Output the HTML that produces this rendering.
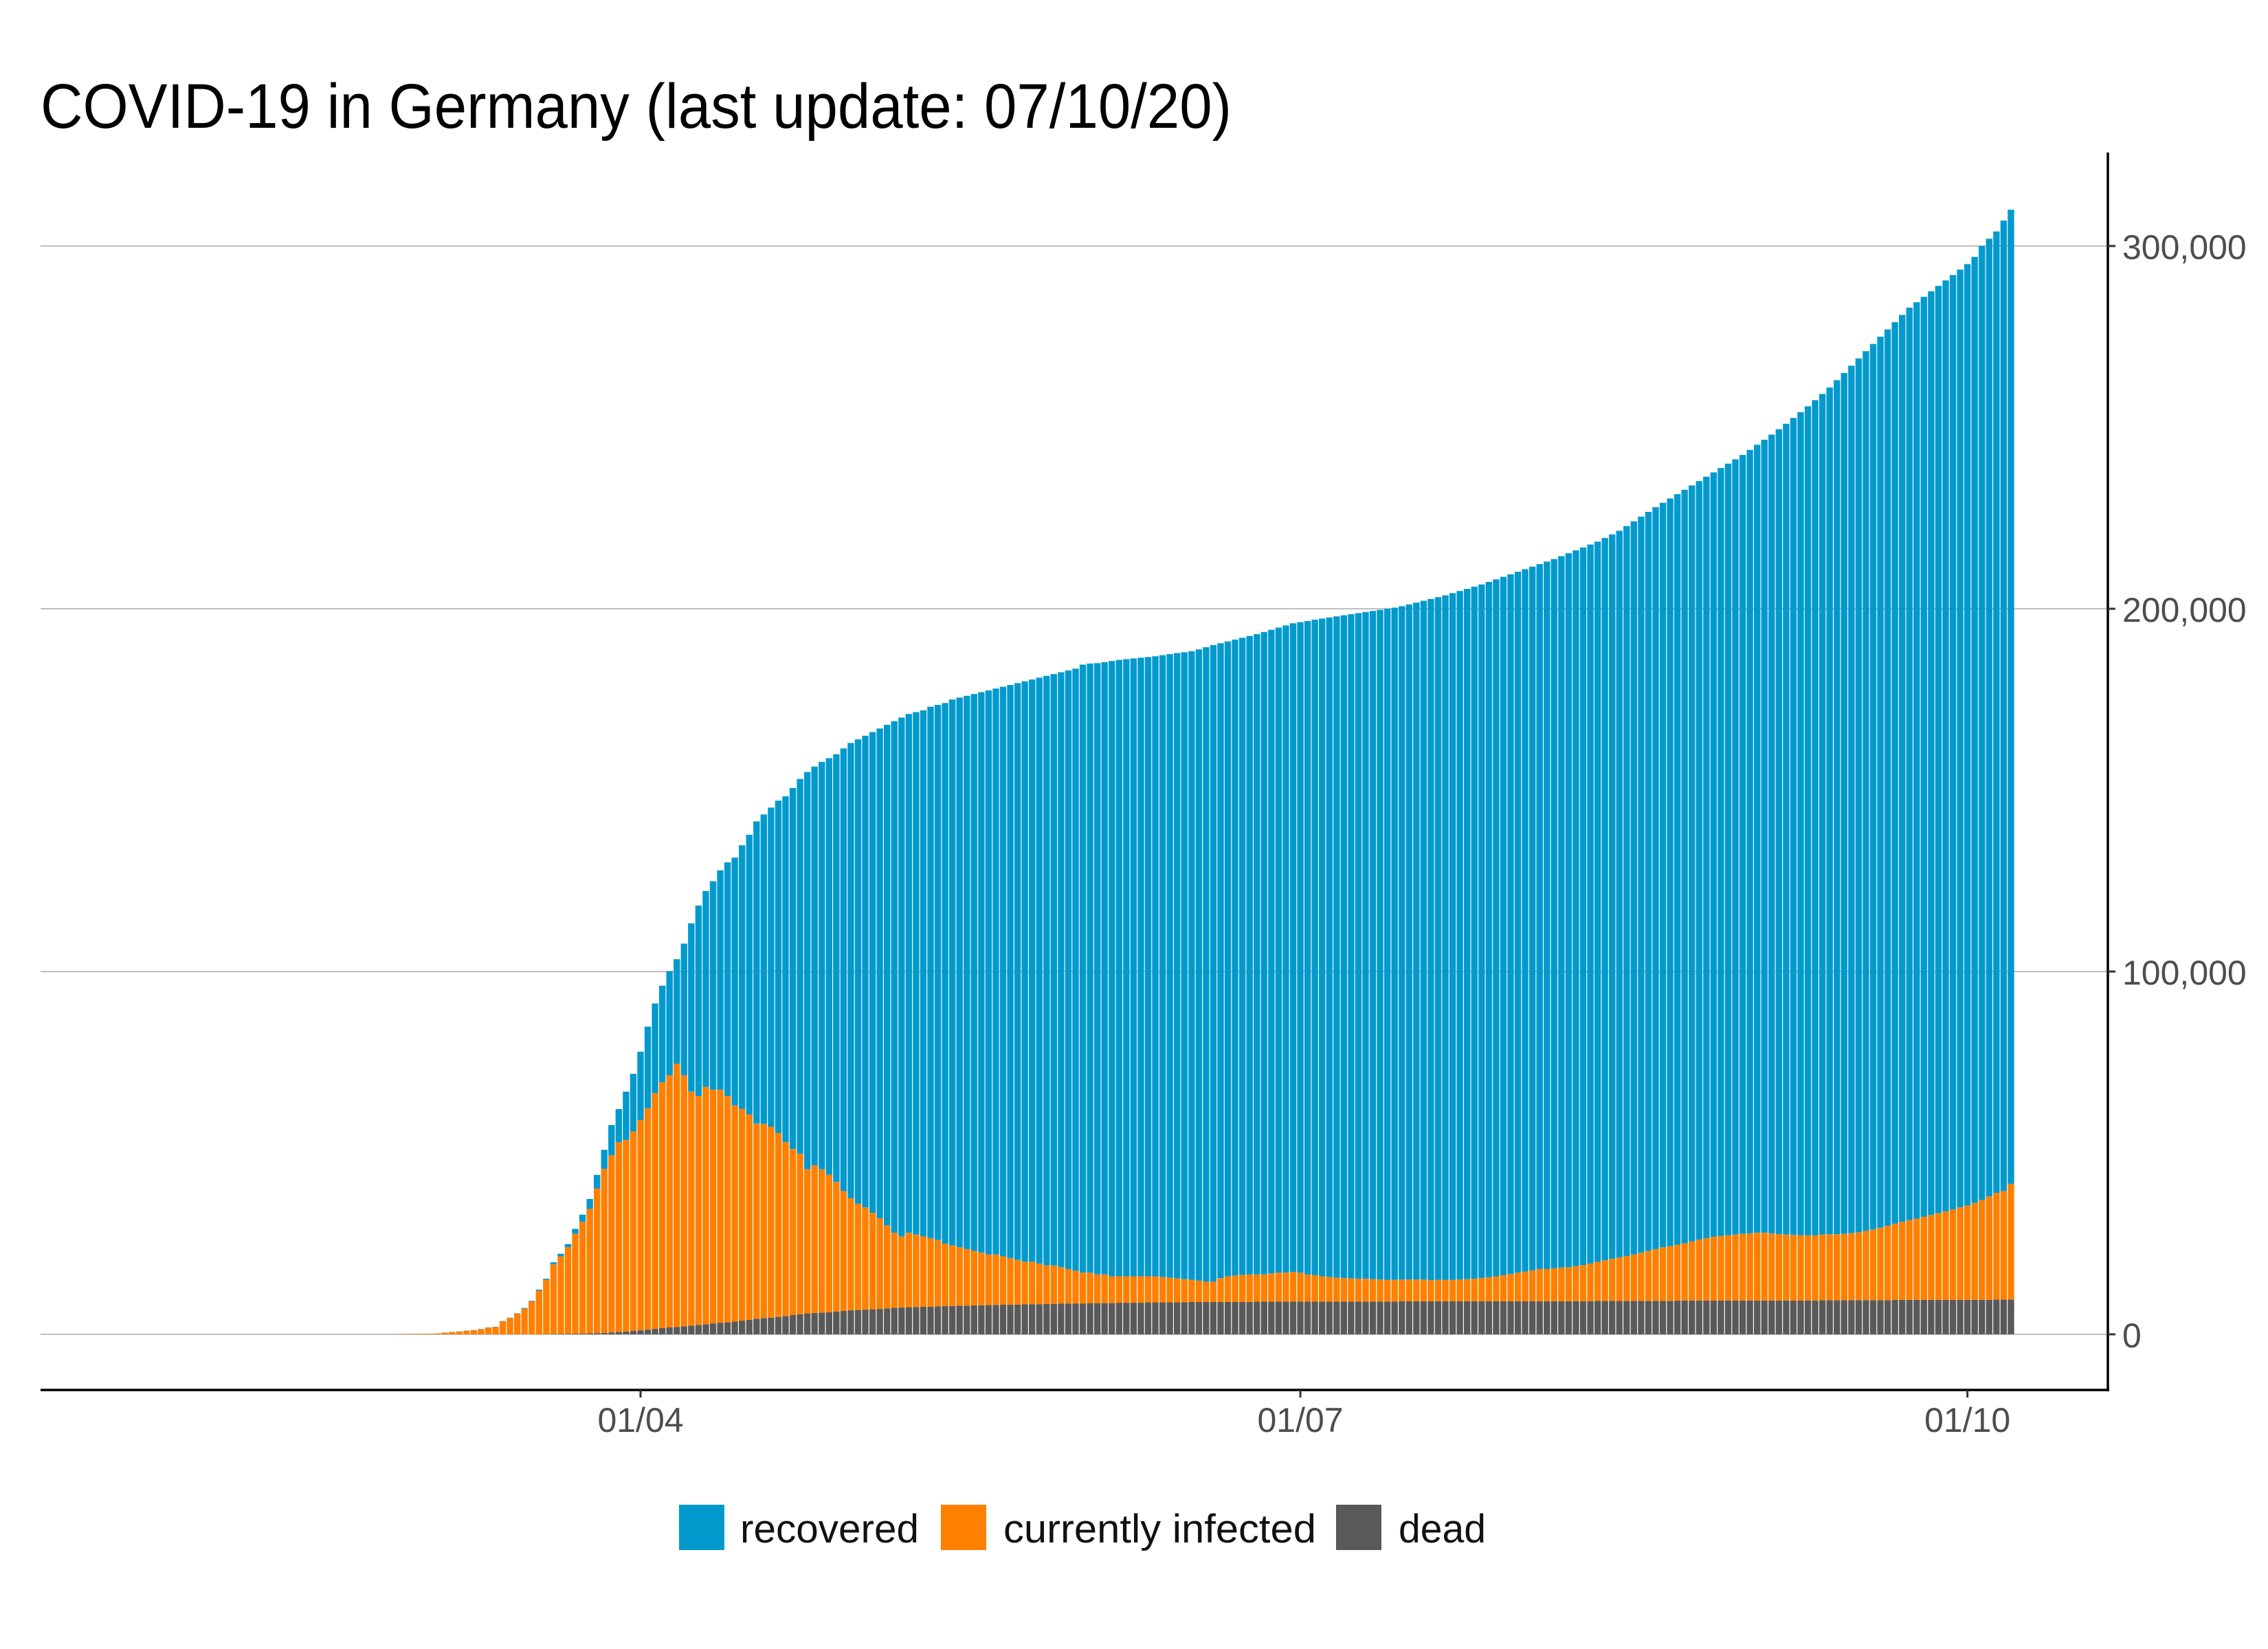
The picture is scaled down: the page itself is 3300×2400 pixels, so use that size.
<!DOCTYPE html>
<html><head><meta charset="utf-8"><style>
html,body{margin:0;padding:0;background:#fff;}
svg{display:block;}
text{font-family:"Liberation Sans",sans-serif;}
</style></head><body>
<svg id="chart" width="3300" height="2400" viewBox="0 0 3300 2400" xmlns="http://www.w3.org/2000/svg">
<rect width="3300" height="2400" fill="#fff"/>
<text x="59" y="186" font-size="92" fill="#000" textLength="1733" lengthAdjust="spacingAndGlyphs">COVID-19 in Germany (last update: 07/10/20)</text>
<g id="grid"></g>
<g id="bars"></g>
<g id="axes"></g>
<g id="legend">
<rect x="988" y="2190" width="66" height="66" fill="#029acd"/>
<text x="1077" y="2245" font-size="58" fill="#111" textLength="260" lengthAdjust="spacingAndGlyphs">recovered</text>
<rect x="1369" y="2190" width="66" height="66" fill="#ff8000"/>
<text x="1460" y="2245" font-size="58" fill="#111" textLength="455" lengthAdjust="spacingAndGlyphs">currently infected</text>
<rect x="1944" y="2190" width="66" height="66" fill="#595959"/>
<text x="2035" y="2245" font-size="58" fill="#111" textLength="127" lengthAdjust="spacingAndGlyphs">dead</text>
</g>
</svg>
<script>
// values in thousands, daily from 27 Feb 2020 to 7 Oct 2020
const startOffset = -34; // days relative to 1 April
const confFeb=[0.05,0.06,0.08];
const confMar=[0.13,0.16,0.19,0.26,0.48,0.67,0.8,1.04,1.18,1.46,1.91,2.08,3.68,4.59,5.8,7.27,9.26,12.33,15.32,19.85,22.21,24.87,29.06,32.99,37.32,43.94,50.87,57.7,62.1,66.89,71.81];
const confApr=[77.9,84.8,91.2,96.1,100.1,103.4,107.7,113.3,118.2,122.2,124.9,127.9,130.1,131.4,134.8,137.7,141.4,143.3,145.2,147.1,148.3,150.6,153.1,155.0,156.5,157.8,158.8,159.9,161.5,163.0];
const confMay=[164,165,166,167,168,169,170,171,171.5,172,173,173.5,174,175,175.5,176,176.5,177,177.5,178,178.5,179,179.5,180,180.5,181,181.5,182,182.5,183,183.5];
const confJun=[184.6,184.9,185,185.3,185.6,185.9,186.1,186.3,186.5,186.7,186.9,187.2,187.5,187.8,188,188.3,188.8,189.4,190,190.5,191,191.5,192,192.5,193,193.6,194.2,194.8,195.4,196];
const confJul=[196.3,196.6,197,197.3,197.6,197.9,198.2,198.5,198.8,199.1,199.4,199.7,200,200.3,200.7,201.2,201.7,202.2,202.7,203.2,203.7,204.3,204.9,205.5,206.1,206.7,207.4,208.1,208.8,209.5,210.2];
const confAug=[210.9,211.6,212.3,213,213.7,214.5,215.3,216.1,216.9,217.7,218.5,219.5,220.5,221.5,222.8,224.1,225.4,226.7,228,229.2,230.4,231.6,232.8,234,235.2,236.4,237.6,238.8,240,241.2,242.4];
const confSep=[243.8,245.2,246.6,248,249.5,251,252.6,254.2,255.8,257.5,259.2,261,263,265,267,269,271,273,275,277,279,281,283,284.5,286,287.5,289,290.5,292,293.5];
const confOct=[295,297,300,302,304,307,310];

const infFeb=[0.05,0.06,0.08];
const infMar=[0.13,0.16,0.19,0.26,0.46,0.64,0.77,1.0,1.13,1.4,1.85,2.0,3.6,4.5,5.7,7.1,9.1,12.0,15.0,19.2,21.4,23.9,27.6,30.8,34.3,39.8,45.2,48.8,52.3,52.8,55];
const infApr=[58,61,65,67.8,69.5,72.6,69.2,64.5,63.1,65.4,64.4,64.2,62.4,59.6,58.3,56.6,53.8,53.5,52.6,50.7,48,45.8,44.3,39.7,40.7,39.5,37.9,35.7,33,30.9];
const infMay=[29.3,28.2,26.6,25,22.9,20.7,19.6,20.5,20,19.4,18.9,18.3,17.2,16.7,16.1,15.6,15,14.5,13.9,13.9,13.3,12.8,12.3,11.7,11.7,11.2,10.6,10.6,10,9.5,9];
const infJun=[8.5,8.4,7.9,7.9,7.4,7.3,7.3,7.3,7.3,7.2,7.2,7,6.8,6.6,6.4,6.1,5.9,5.6,5.6,6.6,7.1,7.3,7.5,7.6,7.5,7.5,7.8,8,8,8.2];
const infJul=[8,7.5,7.3,7,6.8,6.6,6.5,6.4,6.3,6.3,6.2,6.1,6,6,6,6,6,6,5.8,5.9,5.9,5.9,6,6.1,6.2,6.4,6.6,6.9,7.2,7.5,7.9];
const infAug=[8.2,8.5,8.9,8.9,9.1,9.3,9.4,9.7,10,10.4,10.8,11.2,11.6,12,12.4,12.8,13.3,13.8,14.3,14.8,15.1,15.4,15.8,16.3,16.8,17.2,17.6,17.8,18,18.2,18.4];
const infSep=[18.5,18.7,18.7,18.5,18.3,18.2,18.1,18,18,18,18.1,18.2,18.2,18.3,18.5,18.7,19.1,19.5,20,20.5,21,21.5,22,22.4,22.9,23.4,23.9,24.4,24.9,25.5];
const infOct=[26,26.7,27.5,28.5,29.4,29.9,31.9];

const deadFeb=[0,0,0];
const deadMar=[0,0,0,0,0,0,0,0,0,0,0,0,0.01,0.01,0.01,0.02,0.02,0.03,0.05,0.07,0.09,0.12,0.15,0.2,0.27,0.34,0.43,0.54,0.65,0.78,0.93];
const deadApr=[1.1,1.3,1.5,1.7,1.9,2.0,2.2,2.4,2.6,2.8,3.0,3.2,3.3,3.5,3.8,4.0,4.3,4.5,4.6,4.8,5.0,5.3,5.5,5.8,5.9,6.0,6.1,6.3,6.5,6.6];
const deadMay=[6.7,6.8,6.9,7.0,7.1,7.3,7.4,7.5,7.5,7.6,7.6,7.7,7.8,7.8,7.9,7.9,8.0,8.0,8.1,8.1,8.2,8.2,8.2,8.3,8.3,8.3,8.4,8.4,8.5,8.5,8.5];
const deadJun=[8.5,8.6,8.6,8.6,8.6,8.7,8.7,8.7,8.7,8.8,8.8,8.8,8.8,8.8,8.8,8.9,8.9,8.9,8.9,8.9,8.9,8.9,8.9,8.9,9.0,9.0,9.0,9.0,9.0,9.0];
const deadJul=[9.0,9.0,9.0,9.0,9.0,9.0,9.0,9.0,9.0,9.0,9.0,9.0,9.0,9.0,9.1,9.1,9.1,9.1,9.1,9.1,9.1,9.1,9.1,9.1,9.1,9.1,9.1,9.1,9.1,9.1,9.1];
const deadAug=[9.1,9.1,9.1,9.1,9.1,9.1,9.1,9.1,9.1,9.1,9.2,9.2,9.2,9.2,9.2,9.2,9.2,9.2,9.2,9.2,9.2,9.3,9.3,9.3,9.3,9.3,9.3,9.3,9.3,9.3,9.3];
const deadSep=[9.3,9.3,9.3,9.3,9.3,9.3,9.3,9.3,9.3,9.3,9.4,9.4,9.4,9.4,9.4,9.4,9.4,9.4,9.4,9.4,9.5,9.5,9.5,9.5,9.5,9.5,9.5,9.5,9.5,9.5];
const deadOct=[9.5,9.5,9.5,9.5,9.6,9.6,9.6];

const yTicks=[0,100,200,300];
const yTickLabels=["0","100,000","200,000","300,000"];
const xTicks=[0,91,183];
const xTickLabels=["01/04","01/07","01/10"];

const confirmed=[].concat(confFeb,confMar,confApr,confMay,confJun,confJul,confAug,confSep,confOct);
const infected=[].concat(infFeb,infMar,infApr,infMay,infJun,infJul,infAug,infSep,infOct);
const dead=[].concat(deadFeb,deadMar,deadApr,deadMay,deadJun,deadJul,deadAug,deadSep,deadOct);

const NS="http://www.w3.org/2000/svg";
const X0=932, DX=10.55, Y0=1942, KY=5.28, BW=9.4;
function xScale(d){return X0+d*DX;}
function yScale(v){return Y0-v*KY;}
function mk(tag,attrs,parent){const e=document.createElementNS(NS,tag);for(const k in attrs)e.setAttribute(k,attrs[k]);parent.appendChild(e);return e;}

const grid=document.getElementById('grid');
yTicks.forEach((v,i)=>{
  const l=mk('line',{x1:59,x2:3067,y1:yScale(v),y2:yScale(v),stroke:'#bebebe','stroke-width':2},grid);
  
  
});

const bars=document.getElementById('bars');
const n=Math.min(confirmed.length,infected.length,dead.length);
for(let i=0;i<n;i++){
  const d=startOffset+i;
  const x=xScale(d)-BW/2;
  const dv=dead[i], iv=infected[i], rv=Math.max(0,confirmed[i]-iv-dv);
  const segs=[[0,dv,'#595959','bar-dead'],[dv,dv+iv,'#ff8000','bar-infected'],[dv+iv,dv+iv+rv,'#029acd','bar-recovered']];
  segs.forEach(s=>{
    const h=yScale(s[0])-yScale(s[1]);
    if(h<=0)return;
    const r=mk('rect',{x:x,y:yScale(s[1]),width:BW,height:h,fill:s[2]},bars);
    
    
  });
}

const axes=document.getElementById('axes');
const xa=mk('line',{x1:59,x2:3069,y1:2023,y2:2023,stroke:'#000','stroke-width':3.5},axes);


const ya=mk('line',{x1:3067,x2:3067,y1:222,y2:2025,stroke:'#000','stroke-width':3.5},axes);


yTicks.forEach((v,i)=>{
  const t=mk('line',{x1:3067,x2:3078,y1:yScale(v),y2:yScale(v),stroke:'#333','stroke-width':3},axes);
  
  
  const lb=mk('text',{x:3088,y:yScale(v)+19,'font-size':50,fill:'#4d4d4d'},axes);
  lb.textContent=yTickLabels[i];
  
  
});
xTicks.forEach((d,i)=>{
  const t=mk('line',{x1:xScale(d),x2:xScale(d),y1:2023,y2:2034,stroke:'#333','stroke-width':3},axes);
  
  
  const lb=mk('text',{x:xScale(d),y:2084,'font-size':50,fill:'#4d4d4d','text-anchor':'middle'},axes);
  lb.textContent=xTickLabels[i];
  
  
});
</script>
</body></html>
